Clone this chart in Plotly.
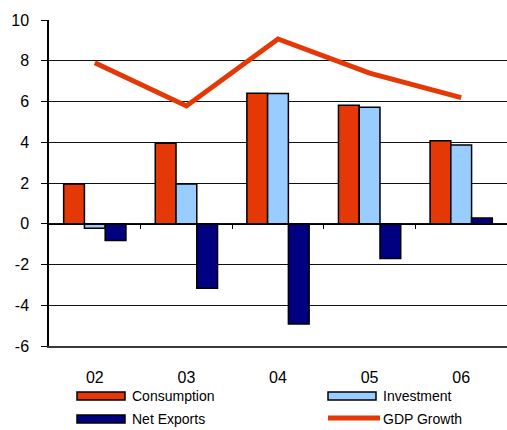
import plotly.graph_objects as go

years = ["02", "03", "04", "05", "06"]
consumption = [1.95, 3.95, 6.4, 5.82, 4.07]
investment = [-0.22, 1.95, 6.39, 5.72, 3.87]
net_exports = [-0.82, -3.17, -4.92, -1.7, 0.28]
gdp_growth = [7.9, 5.78, 9.07, 7.39, 6.19]
y_ticks = [-6, -4, -2, 0, 2, 4, 6, 8, 10]
legend_names = ["Consumption", "Investment", "Net Exports", "GDP Growth"]

RED = "#E43806"
LIGHT = "#99CCFF"
NAVY = "#000080"
FONT = "Liberation Sans, Arial, sans-serif"

W, H = 507, 430
L, R, T, B = 49, 0, 20, 84
PW, PH = W - L - R, H - T - B

def px(x):
    return (x - L) / PW

def py(y):
    return (H - B - y) / PH

fig = go.Figure()
bar_line = dict(color="black", width=1.5)
fig.add_trace(go.Bar(x=years, y=consumption, name=legend_names[0],
                     marker=dict(color=RED, line=bar_line)))
fig.add_trace(go.Bar(x=years, y=investment, name=legend_names[1],
                     marker=dict(color=LIGHT, line=bar_line)))
fig.add_trace(go.Bar(x=years, y=net_exports, name=legend_names[2],
                     marker=dict(color=NAVY, line=bar_line)))
fig.add_trace(go.Scatter(x=years, y=gdp_growth, name=legend_names[3], mode="lines",
                         line=dict(color=RED, width=5)))

# manual legend (two columns)
shapes = []
annotations = []
entries = [
    (legend_names[0], "bar", RED, 77, 396),
    (legend_names[1], "bar", LIGHT, 328, 396),
    (legend_names[2], "bar", NAVY, 77, 419),
    (legend_names[3], "line", RED, 328, 419),
]
for name, kind, color, x0, yc in entries:
    if kind == "bar":
        shapes.append(dict(type="rect", xref="paper", yref="paper",
                           x0=px(x0), x1=px(x0 + 48), y0=py(yc + 4), y1=py(yc - 4),
                           fillcolor=color, line=dict(color="black", width=1.5)))
    else:
        shapes.append(dict(type="line", xref="paper", yref="paper",
                           x0=px(x0), x1=px(x0 + 52), y0=py(yc - 1), y1=py(yc - 1),
                           line=dict(color=color, width=5)))
    annotations.append(dict(xref="paper", yref="paper", x=px(x0 + 53), y=py(yc),
                            text=name, showarrow=False, xanchor="left", yanchor="middle",
                            font=dict(family=FONT, size=14, color="black")))

fig.update_layout(
    width=W, height=H,
    margin=dict(l=L, r=R, t=T, b=B),
    paper_bgcolor="white", plot_bgcolor="white",
    barmode="group", bargap=0.32, bargroupgap=0,
    showlegend=False,
    font=dict(family=FONT, size=14, color="black"),
    shapes=shapes, annotations=annotations,
    xaxis=dict(type="category", categoryarray=years, range=[-0.5, 4.5],
               showline=True, linecolor="#3a3a3a", linewidth=2,
               ticks="", showgrid=False, zeroline=False,
               ticklabelstandoff=16, tickfont=dict(size=16)),
    xaxis2=dict(overlaying="x", anchor="free", position=0.375, range=[-0.5, 4.5],
                tickvals=[0.5, 1.5, 2.5, 3.5], showticklabels=False,
                ticks="outside", ticklen=4, tickcolor="black", tickwidth=1,
                showline=True, linecolor="black", linewidth=1,
                showgrid=False, zeroline=False),
    yaxis=dict(range=[-6, 10], tickvals=y_ticks, ticktext=[str(v) for v in y_ticks],
               showline=True, linecolor="black", linewidth=1.5,
               ticks="outside", ticklen=6, tickcolor="black",
               showgrid=True, gridcolor="#111", gridwidth=1,
               zeroline=False, ticklabelstandoff=9, tickfont=dict(size=16)),
)
# dummy invisible trace to bind xaxis2
fig.add_trace(go.Scatter(x=[0], y=[0], xaxis="x2", mode="markers",
                         marker=dict(opacity=0), hoverinfo="skip", showlegend=False))

fig.write_html("out.html")
